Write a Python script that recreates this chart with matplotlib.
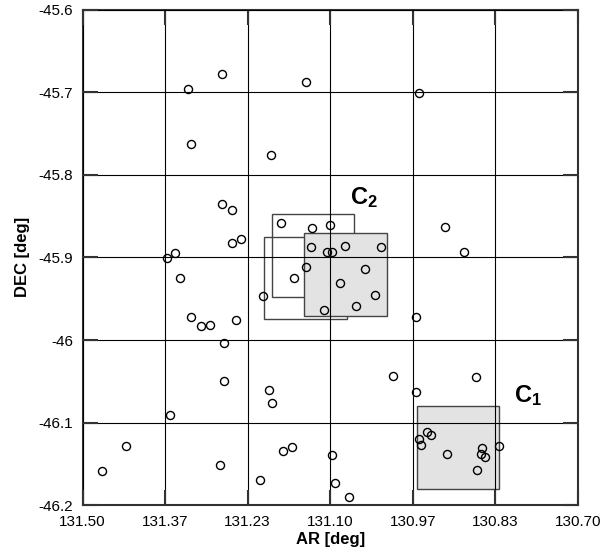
import matplotlib.pyplot as plt
from matplotlib.patches import Rectangle
import numpy as np

plt.rcParams['font.family'] = ['Liberation Sans', 'DejaVu Sans']
plt.rcParams['mathtext.fontset'] = 'custom'
plt.rcParams['mathtext.rm'] = 'Liberation Sans'
plt.rcParams['mathtext.bf'] = 'Liberation Sans:bold'

# source positions (AR, DEC in degrees)
ar = [131.2749, 131.3298, 131.1396, 131.3255, 131.1952, 131.2753, 131.2587,
      131.1795, 131.1286, 131.1003, 131.2592, 131.2442, 131.1315, 131.1047,
      131.0974, 131.3508, 131.3638, 131.1383, 131.1577, 131.3427, 130.9560,
      130.9149, 130.8842, 131.0184, 131.0766, 131.0442, 131.2091, 131.1092,
      131.3255, 131.3088, 131.2938, 131.2522, 131.2711, 131.2721, 131.1984,
      131.1936, 131.3589, 131.4300, 131.4683, 131.2776, 131.1758, 131.1622,
      131.2134, 131.0971, 131.0919, 131.0833, 131.0281, 131.0588, 130.9613,
      130.9990, 130.8648, 130.9618, 130.9440, 130.9366, 130.9570, 130.9528,
      130.9107, 130.8551, 130.8563, 130.8498, 130.8627, 130.8272, 131.0696]
dec = [-45.6779, -45.6968, -45.6879, -45.7626, -45.7759, -45.8355, -45.8428,
       -45.8585, -45.8640, -45.8609, -45.8823, -45.8782, -45.8875, -45.8932,
       -45.8934, -45.8944, -45.9005, -45.9117, -45.9244, -45.9244, -45.7016,
       -45.8634, -45.8936, -45.8879, -45.8857, -45.9145, -45.9468, -45.9638,
       -45.9719, -45.9828, -45.9815, -45.9762, -46.0037, -46.0500, -46.0609,
       -46.0759, -46.0911, -46.1283, -46.1585, -46.1516, -46.1340, -46.1295,
       -46.1698, -46.1388, -46.1734, -45.9315, -45.9452, -45.9592, -45.9726,
       -46.0440, -46.0444, -46.0633, -46.1113, -46.1153, -46.1194, -46.1267,
       -46.1380, -46.1307, -46.1383, -46.1419, -46.1577, -46.1283, -46.1896]

# search boxes: (AR min, AR max, DEC min, DEC max, filled)
boxes = [
    (131.0728, 131.2065, -45.9746, -45.8751, False),
    (131.0615, 131.1945, -45.9477, -45.8476, False),
    (131.0087, 131.1419, -45.9710, -45.8710, True),
    (130.8267, 130.9592, -46.1807, -46.0803, True),
]
labels = [('C', '2', 131.045, -45.828), ('C', '1', 130.781, -46.067)]

xticks = [131.50, 131.50 - 0.8 / 6, 131.50 - 1.6 / 6, 131.10,
          130.70 + 1.6 / 6, 130.70 + 0.8 / 6, 130.70]
xticklabels = ['131.50', '131.37', '131.23', '131.10', '130.97', '130.83', '130.70']
yticks = [-45.6, -45.7, -45.8, -45.9, -46.0, -46.1, -46.2]
yticklabels = ['-45.6', '-45.7', '-45.8', '-45.9', '-46', '-46.1', '-46.2']

fig = plt.figure(figsize=(6.03, 5.59), dpi=100)
ax = fig.add_axes([0.137, 0.096, 0.821, 0.887])

for x0, x1, y0, y1, filled in boxes:
    ax.add_patch(Rectangle((x0, y0), x1 - x0, y1 - y0,
                           facecolor='#e3e3e3' if filled else 'none',
                           edgecolor='#444444', linewidth=1.0, zorder=1))

ax.plot(ar, dec, 'o', markersize=5.8, markerfacecolor='none',
        markeredgecolor='black', markeredgewidth=1.0, zorder=3)

for base, sub, x, y in labels:
    ax.text(x, y, r'$\mathbf{%s_{%s}}$' % (base, sub), fontsize=17,
            ha='center', va='center', zorder=4)

ax.set_xlim(131.50, 130.70)
ax.set_ylim(-46.2, -45.6)
ax.set_xticks(xticks)
ax.set_xticklabels(xticklabels)
ax.set_yticks(yticks)
ax.set_yticklabels(yticklabels)
ax.grid(True, color='black', linewidth=0.8, zorder=2)
ax.set_axisbelow(False)
ax.tick_params(direction='in', length=11, width=1.5, color='#333333',
               top=True, right=True, labelsize=11, pad=7)
for s in ax.spines.values():
    s.set_linewidth(1.5)
    s.set_color('#333333')

ax.set_xlabel('AR [deg]', fontsize=12, fontweight='bold', labelpad=2)
ax.set_ylabel('DEC [deg]', fontsize=12, fontweight='bold', labelpad=6)

fig.savefig('out.png', dpi=100)
